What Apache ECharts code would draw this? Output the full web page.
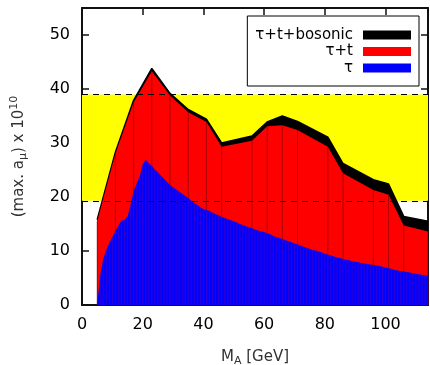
<!DOCTYPE html>
<html>
<head>
<meta charset="utf-8">
<script src="https://cdn.jsdelivr.net/npm/echarts@6/dist/echarts.min.js"></script>
<style>
  html, body { margin: 0; padding: 0; background: #fff; }
  #chart { width: 430px; height: 365px; }
</style>
</head>
<body>
<div id="chart"></div>
<script>
// vertices of the tau+t and tau+t+bosonic envelopes (M_A in GeV)
const envelopeMass = [5, 11, 17, 23, 29, 35, 41, 46, 56, 61, 66, 71, 81, 86, 96, 101, 106, 114];
const tauTop = [15.5, 28.0, 37.5, 43.3, 38.8, 35.7, 33.9, 29.3, 30.4, 33.1, 33.3, 32.4, 29.3, 24.4, 21.3, 20.4, 14.7, 13.6];
const bosonicTop = [15.8, 28.3, 37.9, 43.8, 39.2, 36.2, 34.4, 30.0, 31.3, 33.9, 35.0, 34.0, 31.1, 26.2, 23.2, 22.4, 16.4, 15.5];

// tau only, one point per GeV
const tauMass = [
  5, 6, 7, 8, 9, 10, 11, 12, 13, 14, 15, 16, 17, 18, 19, 20, 21, 22, 23, 24,
  25, 26, 27, 28, 29, 30, 31, 32, 33, 34, 35, 36, 37, 38, 39, 40, 41, 42, 43, 44,
  45, 46, 47, 48, 49, 50, 51, 52, 53, 54, 55, 56, 57, 58, 59, 60, 61, 62, 63, 64,
  65, 66, 67, 68, 69, 70, 71, 72, 73, 74, 75, 76, 77, 78, 79, 80, 81, 82, 83, 84,
  85, 86, 87, 88, 89, 90, 91, 92, 93, 94, 95, 96, 97, 98, 99, 100, 101, 102, 103, 104,
  105, 106, 107, 108, 109, 110, 111, 112, 113, 114
];
const tauValues = [
  0, 5.5, 8.5, 10.2, 11.5, 12.6, 13.6, 14.7, 15.6, 15.8, 16.4, 18.5, 21.0, 22.5, 23.8, 26.0, 26.9, 26.3, 25.8, 25.1,
  24.6, 24.0, 23.4, 22.8, 22.2, 21.8, 21.4, 21.0, 20.6, 20.2, 19.8, 19.3, 18.9, 18.5, 18.1, 17.8, 17.6, 17.4, 17.1, 16.8,
  16.6, 16.3, 16.1, 15.9, 15.7, 15.5, 15.3, 15.0, 14.8, 14.6, 14.4, 14.2, 14.0, 13.8, 13.6, 13.5, 13.3, 13.1, 12.8, 12.6,
  12.4, 12.2, 12.0, 11.8, 11.6, 11.4, 11.2, 11.0, 10.8, 10.6, 10.4, 10.2, 10.1, 9.9, 9.7, 9.5, 9.3, 9.2, 9.0, 8.8,
  8.7, 8.5, 8.4, 8.3, 8.1, 8.0, 7.9, 7.8, 7.7, 7.6, 7.5, 7.4, 7.3, 7.2, 7.1, 6.9, 6.8, 6.7, 6.5, 6.4,
  6.3, 6.2, 6.1, 6.0, 5.9, 5.8, 5.7, 5.6, 5.5, 5.4
];

// experimental band (g-2 discrepancy)
const bandLow = 19.3;
const bandHigh = 39;

const xTicks = [0, 20, 40, 60, 80, 100];
const yTicks = [0, 10, 20, 30, 40, 50];

const pairs = (xs, ys) => xs.map((x, i) => [x, ys[i]]);

const FONT = 'DejaVu Sans';
const chart = echarts.init(document.getElementById('chart'), null, { renderer: 'canvas' });

const tickFmt = (list) => (v) => (list.includes(v) ? String(v) : '');

const frameLine = { show: true, onZero: false, lineStyle: { color: '#111', width: 2 } };
const innerTick = { show: true, inside: true, length: 7, lineStyle: { color: '#111', width: 1.5 } };

const option = {
  animation: false,
  grid: { left: 82, right: 2, top: 8, bottom: 60, containLabel: false, outerBoundsMode: 'none' },
  legend: {
    data: ['τ+t+bosonic', 'τ+t', 'τ'],
    orient: 'vertical',
    align: 'right',
    right: 11,
    top: 16,
    padding: [11, 8, 10, 8],
    itemGap: 0.5,
    itemWidth: 48,
    itemHeight: 9,
    icon: 'rect',
    backgroundColor: '#fff',
    borderColor: '#000',
    borderWidth: 1,
    borderRadius: 0,
    selectedMode: false,
    textStyle: { fontFamily: FONT, fontSize: 15, color: '#000', lineHeight: 16, padding: [0, 5, 0, 0] }
  },
  xAxis: [{
    type: 'value', min: 0, max: 114, interval: 20,
    name: '{m|M}{s|A} [GeV]',
    nameLocation: 'middle', nameGap: 42,
    nameTextStyle: {
      fontFamily: FONT, fontSize: 15, color: '#333',
      rich: {
        m: { fontFamily: FONT, fontSize: 15, color: '#333' },
        s: { fontFamily: FONT, fontSize: 11, color: '#333', padding: [9, 0, 0, 0] }
      }
    },
    axisLine: frameLine, axisTick: innerTick, splitLine: { show: false },
    axisLabel: { fontFamily: FONT, fontSize: 16, color: '#000', margin: 12, formatter: tickFmt(xTicks) }
  }, {
    type: 'value', position: 'top', min: 0, max: 114, interval: 20,
    axisLine: frameLine, axisTick: innerTick, splitLine: { show: false },
    axisLabel: { show: false }
  }],
  yAxis: [{
    type: 'value', min: 0, max: 55, interval: 10,
    name: '(max. a{s|μ}) x 10{p|10}',
    nameLocation: 'middle', nameGap: 53, nameRotate: 90,
    nameTextStyle: {
      fontFamily: FONT, fontSize: 15, color: '#333',
      rich: {
        s: { fontFamily: FONT, fontSize: 11, color: '#333', padding: [9, 0, 0, 0] },
        p: { fontFamily: FONT, fontSize: 11, color: '#333', padding: [0, 0, 9, 0] }
      }
    },
    axisLine: frameLine, axisTick: innerTick, splitLine: { show: false },
    axisLabel: { fontFamily: FONT, fontSize: 16, color: '#000', margin: 12, formatter: tickFmt(yTicks) }
  }, {
    type: 'value', position: 'right', min: 0, max: 55, interval: 10,
    axisLine: frameLine, axisTick: innerTick, splitLine: { show: false },
    axisLabel: { show: false }
  }],
  series: [
    {
      // yellow band behind everything
      name: 'band', type: 'line', data: [], z: 1, silent: true,
      markArea: {
        silent: true,
        itemStyle: { color: '#ffff00' },
        data: [[{ yAxis: bandLow }, { yAxis: bandHigh }]]
      }
    },
    {
      name: 'τ+t+bosonic', type: 'line', z: 2,
      data: pairs(envelopeMass, bosonicTop),
      showSymbol: false, symbol: 'none',
      itemStyle: { color: '#000' },
      lineStyle: { color: '#000', width: 1.5 },
      areaStyle: { color: '#000', opacity: 1 }
    },
    {
      name: 'τ+t', type: 'line', z: 3,
      data: pairs(envelopeMass, tauTop),
      showSymbol: false, symbol: 'none',
      itemStyle: { color: '#ff0000' },
      lineStyle: { width: 0 },
      areaStyle: { color: '#ff0000', opacity: 1 }
    },
    {
      // thin seams at the envelope vertices
      name: 'seamRed', type: 'bar', z: 3,
      data: pairs(envelopeMass, tauTop),
      barWidth: 1, barGap: '-100%', silent: true,
      itemStyle: { color: 'rgba(110,0,0,0.55)' }
    },
    {
      name: 'τ', type: 'line', z: 4,
      data: pairs(tauMass, tauValues),
      showSymbol: false, symbol: 'none',
      itemStyle: { color: '#0000ff' },
      lineStyle: { width: 0 },
      areaStyle: { color: '#0000ff', opacity: 1 }
    },
    {
      name: 'seamBlue', type: 'bar', z: 5,
      data: pairs(tauMass, tauValues),
      barWidth: 1, barGap: '-100%', silent: true,
      itemStyle: { color: 'rgba(120,0,150,0.4)' }
    },
    {
      // dashed band edges on top
      name: 'edges', type: 'line', data: [], z: 10, silent: true,
      markLine: {
        silent: true, symbol: 'none',
        label: { show: false },
        lineStyle: { color: '#000', width: 1, type: [6, 5] },
        data: [{ yAxis: bandHigh }, { yAxis: bandLow }]
      }
    }
  ]
};

chart.setOption(option);
</script>
</body>
</html>
